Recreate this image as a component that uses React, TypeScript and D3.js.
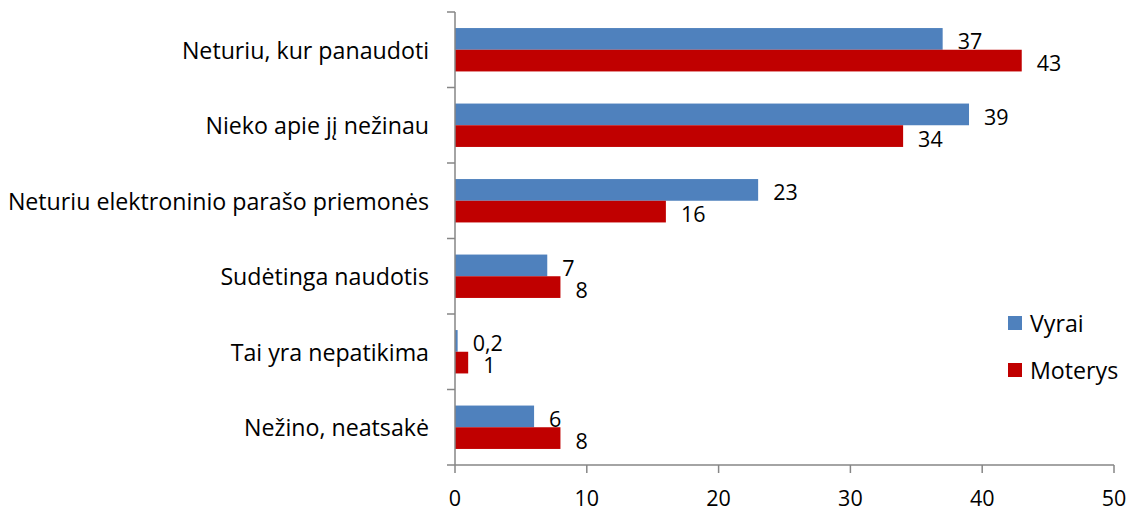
import React from "react";
import * as d3 from "d3";

const categories = [
  "Neturiu, kur panaudoti",
  "Nieko apie jį nežinau",
  "Neturiu elektroninio parašo priemonės",
  "Sudėtinga naudotis",
  "Tai yra nepatikima",
  "Nežino, neatsakė",
];
const vyrai = [37, 39, 23, 7, 0.2, 6];
const moterys = [43, 34, 16, 8, 1, 8];
const seriesNames = ["Vyrai", "Moterys"];
const seriesColors = ["#4F81BD", "#C00000"];
const xTicks = [0, 10, 20, 30, 40, 50];

const fmt = (v: number) => String(v).replace(".", ",");

export default function App() {
  const W = 1132, H = 514;
  const left = 455, right = 1114, top = 12, bottom = 465;
  const x = d3.scaleLinear().domain([0, 50]).range([left, right]);
  const y = d3.scaleBand<string>().domain(categories).range([top, bottom]).paddingInner(0).paddingOuter(0);
  const inner = d3.scaleBand<string>().domain(seriesNames).range([0, y.bandwidth()]).paddingOuter(0.74).paddingInner(0);
  const font = "Open Sans, sans-serif";
  const fs = 23.2;
  const fn = 21.5;
  const axisColor = "#868686";
  const series = [vyrai, moterys];
  return (
    <svg width={W} height={H} style={{ position: "absolute", left: 0, top: 0, background: "#fff" }} fontFamily={font}>
      {categories.map((c, i) =>
        series.map((s, j) => {
          const yy = (y(c) as number) + (inner(seriesNames[j]) as number);
          const h = inner.bandwidth();
          return (
            <g key={c + j}>
              <rect x={x(0)} y={yy} width={x(s[i]) - x(0)} height={h} fill={seriesColors[j]} />
              <text x={x(s[i]) + 15} y={yy + h / 2 + 2} dominantBaseline="central" fontSize={fn} fill="#000">
                {fmt(s[i])}
              </text>
            </g>
          );
        })
      )}
      {/* y axis */}
      <line x1={left} x2={left} y1={top} y2={bottom} stroke={axisColor} strokeWidth={1.5} />
      {d3.range(categories.length + 1).map((k) => {
        const yy = top + k * y.step();
        return <line key={k} x1={left - 8} x2={left} y1={yy} y2={yy} stroke={axisColor} strokeWidth={1.5} />;
      })}
      {categories.map((c) => (
        <text key={c} x={429} y={(y(c) as number) + y.bandwidth() / 2} textAnchor="end" dominantBaseline="central" fontSize={fs} fill="#000">
          {c}
        </text>
      ))}
      {/* x axis */}
      <line x1={left} x2={right} y1={bottom} y2={bottom} stroke={axisColor} strokeWidth={1.5} />
      {xTicks.map((t) => (
        <g key={t}>
          <line x1={x(t)} x2={x(t)} y1={bottom} y2={bottom + 8} stroke={axisColor} strokeWidth={1.5} />
          <text x={x(t)} y={497} textAnchor="middle" dominantBaseline="central" fontSize={fn} fill="#000">
            {t}
          </text>
        </g>
      ))}
      {/* legend */}
      {seriesNames.map((n, j) => (
        <g key={n}>
          <rect x={1008} y={316 + j * 47} width={14} height={14} fill={seriesColors[j]} />
          <text x={1030} y={323 + j * 47} dominantBaseline="central" fontSize={fs} fill="#000">
            {n}
          </text>
        </g>
      ))}
    </svg>
  );
}
